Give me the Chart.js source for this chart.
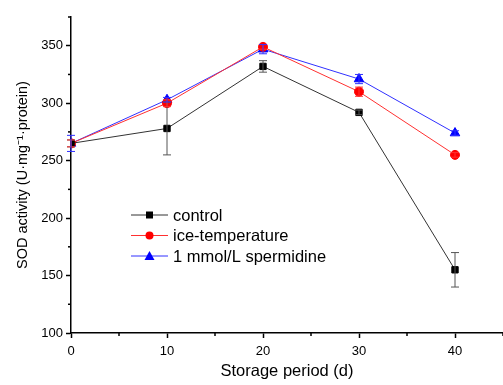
<!DOCTYPE html>
<html>
<head>
<meta charset="utf-8">
<script src="https://cdn.jsdelivr.net/npm/chart.js@4/dist/chart.umd.min.js"></script>
<style>
  html, body { margin: 0; padding: 0; background: #fff; overflow: hidden; }
  #wrap { width: 503px; height: 385px; }
</style>
</head>
<body>
<div id="wrap"><canvas id="sodChart"></canvas></div>
<script>
// data
const days = [0, 10, 20, 30, 40];
const controlVals = [265, 278, 332, 292, 155];
const controlErr = [3, 23, 5, 2, 15];
const iceVals = [265, 300, 349, 310, 255];
const iceErr = [3, 3, 2, 4, 2];
const spermVals = [265, 303, 347, 321, 274];
const spermErr = [7, 2, 4, 4, 2];
const yTicks = [100, 150, 200, 250, 300, 350];
const xTicks = [0, 10, 20, 30, 40];

const font = 'Arial, "Liberation Sans", sans-serif';

function pts(vals) {
  return days.map((d, i) => ({ x: d, y: vals[i] }));
}

// error bars + minor ticks + legend, drawn with the chart's scales
const extras = {
  id: 'extras',
  afterDatasetsDraw(chart) {
    const ctx = chart.ctx;
    const xs = chart.scales.x, ys = chart.scales.y;
    const errs = [controlErr, iceErr, spermErr];
    ctx.save();
    chart.data.datasets.forEach((ds, k) => {
      ctx.strokeStyle = ds.errColor;
      ctx.lineWidth = 1;
      ds.data.forEach((p, i) => {
        const px = xs.getPixelForValue(p.x);
        const top = ys.getPixelForValue(p.y + errs[k][i]);
        const bot = ys.getPixelForValue(p.y - errs[k][i]);
        ctx.beginPath();
        ctx.moveTo(px, top); ctx.lineTo(px, bot);
        ctx.moveTo(px - 4, top); ctx.lineTo(px + 4, top);
        ctx.moveTo(px - 4, bot); ctx.lineTo(px + 4, bot);
        ctx.stroke();
      });
    });

    // minor ticks
    ctx.strokeStyle = '#000';
    ctx.lineWidth = 1.5;
    const yb = ys.bottom;
    [5, 15, 25, 35, 45].forEach(v => {
      const px = xs.getPixelForValue(v);
      ctx.beginPath(); ctx.moveTo(px, yb); ctx.lineTo(px, yb + 3); ctx.stroke();
    });
    const xl = xs.left;
    [125, 175, 225, 275, 325, 375].forEach(v => {
      const py = ys.getPixelForValue(v);
      ctx.beginPath(); ctx.moveTo(xl, py); ctx.lineTo(xl - 3, py); ctx.stroke();
    });

    // legend
    const lx = 131, ly = 215, gap = 20.5;
    chart.data.datasets.forEach((ds, k) => {
      const y = ly + k * gap;
      ctx.strokeStyle = ds.borderColor;
      ctx.lineWidth = 1;
      ctx.beginPath(); ctx.moveTo(lx, y); ctx.lineTo(lx + 37, y); ctx.stroke();
      ctx.fillStyle = ds.pointBackgroundColor;
      const cx = lx + 18.5;
      ctx.beginPath();
      if (ds.pointStyle === 'rect') ctx.rect(cx - 3.5, y - 3.5, 7, 7);
      else if (ds.pointStyle === 'circle') ctx.arc(cx, y, 4, 0, Math.PI * 2);
      else { ctx.moveTo(cx, y - 5); ctx.lineTo(cx + 5, y + 4); ctx.lineTo(cx - 5, y + 4); ctx.closePath(); }
      ctx.fill();
      ctx.fillStyle = '#000';
      ctx.font = '16.5px ' + font;
      ctx.textBaseline = 'middle';
      ctx.fillText(ds.label, lx + 42, y + 1);
    });
    ctx.restore();
  }
};

new Chart(document.getElementById('sodChart'), {
  type: 'line',
  data: {
    datasets: [
      {
        label: 'control',
        data: pts(controlVals),
        borderColor: '#333',
        errColor: '#555',
        pointBackgroundColor: '#000',
        pointBorderColor: '#000',
        pointStyle: 'rect',
        pointRadius: 4.5,
        borderWidth: 1
      },
      {
        label: 'ice-temperature',
        data: pts(iceVals),
        borderColor: '#ff3030',
        errColor: '#ff3030',
        pointBackgroundColor: '#ff0000',
        pointBorderColor: '#ff0000',
        pointStyle: 'circle',
        pointRadius: 4.5,
        borderWidth: 1
      },
      {
        label: '1 mmol/L spermidine',
        data: pts(spermVals),
        borderColor: '#3030ff',
        errColor: '#3030ff',
        pointBackgroundColor: '#0000ff',
        pointBorderColor: '#0000ff',
        pointStyle: 'triangle',
        pointRadius: 5.5,
        borderWidth: 1
      }
    ]
  },
  options: {
    responsive: true,
    maintainAspectRatio: false,
    animation: false,
    layout: { autoPadding: false, padding: { top: 17, right: 0, left: 0, bottom: 0 } },
    plugins: { legend: { display: false }, tooltip: { enabled: false } },
    scales: {
      x: {
        type: 'linear',
        min: 0,
        max: 45,
        afterBuildTicks: s => { s.ticks = xTicks.map(v => ({ value: v })); },
        afterFit: s => { s.height = 52; s.paddingRight = 0; },
        grid: { drawOnChartArea: false, tickLength: 5, tickColor: '#000', tickWidth: 1.5 },
        border: { color: '#000', width: 1.5 },
        ticks: { color: '#000', font: { family: font, size: 13 }, padding: 6, maxRotation: 0 },
        title: { display: true, text: 'Storage period (d)', color: '#000', font: { family: font, size: 16.5 }, padding: { top: 7 } }
      },
      y: {
        min: 100,
        max: 375,
        afterBuildTicks: s => { s.ticks = yTicks.map(v => ({ value: v })); },
        afterFit: s => { s.width = 71; },
        grid: { drawOnChartArea: false, tickLength: 5, tickColor: '#000', tickWidth: 1.5 },
        border: { color: '#000', width: 1.5 },
        ticks: { color: '#000', font: { family: font, size: 13 }, padding: 3 },
        title: { display: true, text: 'SOD activity (U·mg⁻¹·protein)', color: '#000', font: { family: font, size: 14.5 }, padding: { top: 14, bottom: 2 } }
      }
    }
  },
  plugins: [extras]
});
</script>
</body>
</html>
